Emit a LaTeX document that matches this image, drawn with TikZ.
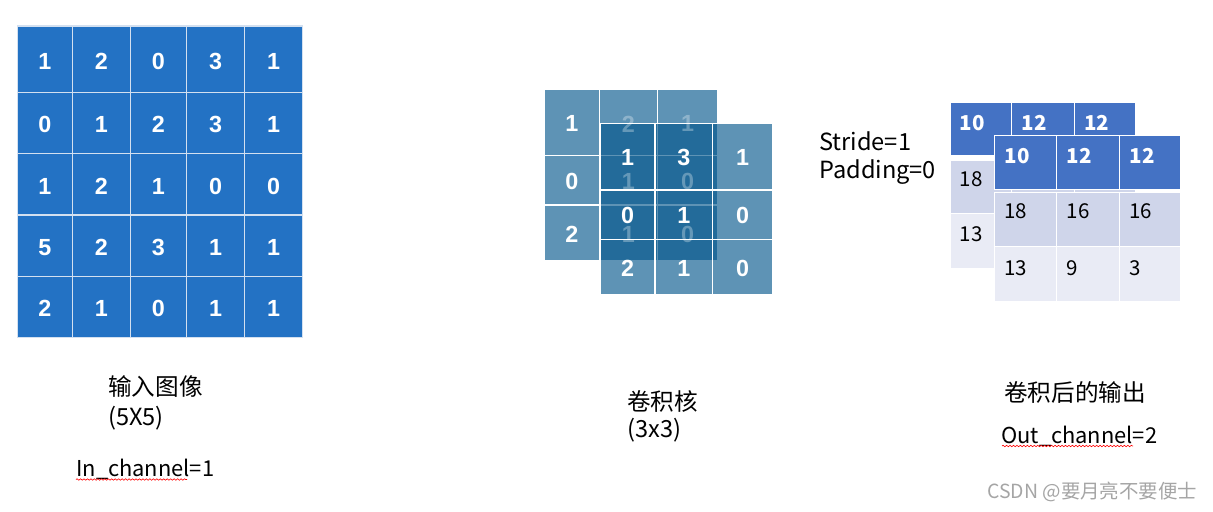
\documentclass[tikz,border=0pt]{standalone}
\usepackage{fontspec}
\newfontfamily\cjk{Noto Sans CJK SC}
\newfontfamily\arial{Liberation Sans}
\usetikzlibrary{decorations.pathmorphing}
\definecolor{inblue}{HTML}{2372C4}
\definecolor{inline}{HTML}{D3E0F0}
\definecolor{kbase}{HTML}{00548A}
\definecolor{ohead}{HTML}{4472C4}
\definecolor{orow}{HTML}{CFD5EA}
\definecolor{orowb}{HTML}{E9EBF5}
\definecolor{wmgray}{HTML}{A5A5A5}
\tikzset{
  gridnum/.style={font=\arial\bfseries\fontsize{17.5}{18}\selectfont, text=white, inner sep=0pt},
  fadednum/.style={gridnum, text opacity=0.3},
  lbl/.style={font=\cjk\fontsize{17.7}{20}\selectfont, inner sep=0pt, anchor=base west},
  chlbl/.style={font=\cjk\fontsize{16.4}{20}\selectfont, inner sep=0pt, anchor=base west},
  outhead/.style={font=\cjk\bfseries\fontsize{15.4}{16}\selectfont, text=white, inner sep=0pt, anchor=base west},
  outbody/.style={font=\cjk\fontsize{15.4}{16}\selectfont, text=black, inner sep=0pt, anchor=base west},
  wmark/.style={font=\cjk\fontsize{14.6}{16}\selectfont, text=wmgray, inner sep=0pt, anchor=base west},
  kfill/.style={fill=kbase, fill opacity=0.63},
  wline/.style={draw=white, line width=1.1pt},
  squiggle/.style={draw=red, line width=0.45pt, decorate, decoration={snake, amplitude=0.55pt, segment length=2.6pt}},
}
\begin{document}
\begin{tikzpicture}[x=0.75pt,y=-0.75pt]
\useasboundingbox (0,0) rectangle (1213,511);

% ---------------- input image 5x5 ----------------
\def\inX{{17.3,72.3,130.3,186.3,244.7,302.3}}
\def\inY{{26,92.3,153.3,215,276.3,337.3}}
\foreach \row [count=\r from 0] in {{1,2,0,3,1},{0,1,2,3,1},{1,2,1,0,0},{5,2,3,1,1},{2,1,0,1,1}}{
  \foreach \v [count=\c from 0] in \row {
    \pgfmathsetmacro\xa{\inX[\c]}
    \pgfmathsetmacro\xb{\inX[\c+1]}
    \pgfmathsetmacro\ya{\inY[\r]}
    \pgfmathsetmacro\yb{\inY[\r+1]}
    \path[fill=inblue, draw=inline, line width=1.1pt] (\xa,\ya) rectangle (\xb,\yb);
    \node[gridnum] (in-\r-\c) at ({(\xa+\xb)/2},{(\ya+\yb)/2+2}) {\v};
  }
}

% ---------------- kernels ----------------
\def\bkX{{544.3,599.3,657.3,717.7}}
\def\bkY{{89,155.7,205,260.7}}
\def\fkX{{600,655,712.7,772.7}}
\def\fkY{{123.3,190,239.3,295}}
% back kernel fills
\foreach \r in {0,1,2}{\foreach \c in {0,1,2}{
  \pgfmathsetmacro\xa{\bkX[\c]}\pgfmathsetmacro\xb{\bkX[\c+1]}
  \pgfmathsetmacro\ya{\bkY[\r]}\pgfmathsetmacro\yb{\bkY[\r+1]}
  \path[kfill] (\xa,\ya) rectangle (\xb,\yb);
}}
\foreach \r in {0,1,2}{\foreach \c in {0,1,2}{
  \pgfmathsetmacro\xa{\bkX[\c]}\pgfmathsetmacro\xb{\bkX[\c+1]}
  \pgfmathsetmacro\ya{\bkY[\r]}\pgfmathsetmacro\yb{\bkY[\r+1]}
  \path[wline] (\xa,\ya) rectangle (\xb,\yb);
}}
% back kernel visible numbers (first column)
\foreach \v [count=\r from 0] in {1,0,2}{
  \pgfmathsetmacro\ya{\bkY[\r]}\pgfmathsetmacro\yb{\bkY[\r+1]}
  \node[gridnum] (ka-\r-0) at (571.8,{(\ya+\yb)/2+1.5}) {\v};
}
% front kernel fills
\foreach \r in {0,1,2}{\foreach \c in {0,1,2}{
  \pgfmathsetmacro\xa{\fkX[\c]}\pgfmathsetmacro\xb{\fkX[\c+1]}
  \pgfmathsetmacro\ya{\fkY[\r]}\pgfmathsetmacro\yb{\fkY[\r+1]}
  \path[kfill] (\xa,\ya) rectangle (\xb,\yb);
}}
\foreach \r in {0,1,2}{\foreach \c in {0,1,2}{
  \pgfmathsetmacro\xa{\fkX[\c]}\pgfmathsetmacro\xb{\fkX[\c+1]}
  \pgfmathsetmacro\ya{\fkY[\r]}\pgfmathsetmacro\yb{\fkY[\r+1]}
  \path[wline] (\xa,\ya) rectangle (\xb,\yb);
}}
% back kernel hidden numbers (faded)
\foreach \row [count=\r from 0] in {{2,1},{1,0},{1,0}}{
  \foreach \v [count=\c from 1] in \row {
    \pgfmathsetmacro\xa{\bkX[\c]}\pgfmathsetmacro\xb{\bkX[\c+1]}
    \pgfmathsetmacro\ya{\bkY[\r]}\pgfmathsetmacro\yb{\bkY[\r+1]}
    \node[fadednum] (ka-\r-\c) at ({(\xa+\xb)/2},{(\ya+\yb)/2+1.5}) {\v};
  }
}
% front kernel numbers
\foreach \row [count=\r from 0] in {{1,3,1},{0,1,0},{2,1,0}}{
  \foreach \v [count=\c from 0] in \row {
    \pgfmathsetmacro\xa{\fkX[\c]}\pgfmathsetmacro\xb{\fkX[\c+1]}
    \pgfmathsetmacro\ya{\fkY[\r]}\pgfmathsetmacro\yb{\fkY[\r+1]}
    \node[gridnum] (kb-\r-\c) at ({(\xa+\xb)/2},{(\ya+\yb)/2+1}) {\v};
  }
}

% ---------------- outputs ----------------
\def\boX{{950,1011.7,1074.3,1136}}
\def\foX{{994.3,1056.7,1119.3,1181}}
% back output
\foreach \c in {0,1,2}{
  \pgfmathsetmacro\xa{\boX[\c]}\pgfmathsetmacro\xb{\boX[\c+1]}
  \path[fill=ohead, wline] (\xa,102.3) rectangle (\xb,156);
  \path[fill=orow, wline] (\xa,160) rectangle (\xb,213.3);
  \path[fill=orowb, wline] (\xa,213.3) rectangle (\xb,268.3);
}
\node[outhead] (oa-h0) at (959.5,130) {10};
\node[outhead] (oa-h1) at (1021.5,130) {12};
\node[outhead] (oa-h2) at (1084,130) {12};
\node[outbody] (oa-r1) at (959.5,186.7) {18};
\node[outbody] (oa-r2) at (959.5,241.7) {13};
% front output
\foreach \c in {0,1,2}{
  \pgfmathsetmacro\xa{\foX[\c]}\pgfmathsetmacro\xb{\foX[\c+1]}
  \path[fill=ohead, wline] (\xa,135.7) rectangle (\xb,189.3);
  \path[fill=orow, wline] (\xa,192.7) rectangle (\xb,246.7);
  \path[fill=orowb, wline] (\xa,246.7) rectangle (\xb,301.7);
}
\foreach \v [count=\c from 0] in {10,12,12}{
  \pgfmathsetmacro\xa{\foX[\c]}
  \node[outhead] (ob-0-\c) at (\xa+10,163.3) {\v};
}
\foreach \v [count=\c from 0] in {18,16,16}{
  \pgfmathsetmacro\xa{\foX[\c]}
  \node[outbody] (ob-1-\c) at (\xa+10,218.3) {\v};
}
\foreach \v [count=\c from 0] in {13,9,3}{
  \pgfmathsetmacro\xa{\foX[\c]}
  \node[outbody] (ob-2-\c) at (\xa+10,275) {\v};
}

% ---------------- labels ----------------
\node[lbl] (stride) at (819,150) {Stride=1};
\node[lbl] (padding) at (819,178.5) {Padding=0};
\node[lbl] (inlab) at (108,395) {输入图像};
\node[lbl] (insize) at (108,425) {(5X5)};
\node[chlbl] (inch) at (76,476.5) {In\_channel=1};
\node[lbl] (klab) at (627,410.5) {卷积核};
\node[lbl] (ksize) at (627,437) {(3x3)};
\node[lbl] (olab) at (1004,401) {卷积后的输出};
\node[chlbl] (och) at (1001,443) {Out\_channel=2};
\node[wmark] (wm) at (987,498) {CSDN @要月亮不要便士};
\path[squiggle] (76,479.5) -- (187,479.5);
\path[squiggle] (1002,446) -- (1133,446);
\end{tikzpicture}
\end{document}
